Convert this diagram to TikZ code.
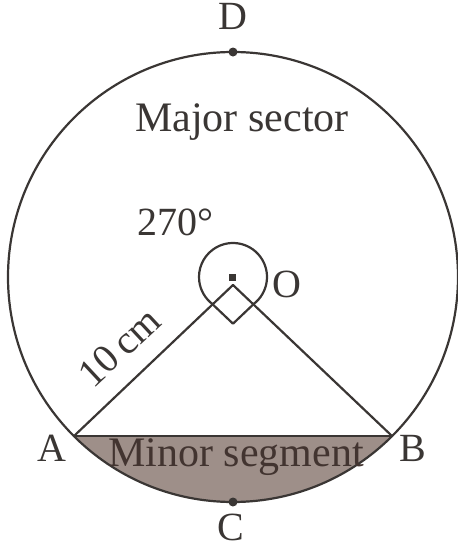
\documentclass[tikz,border=0pt]{standalone}
\usepackage{fontspec}
\setmainfont{Liberation Serif}
\usetikzlibrary{calc}
\definecolor{ink}{RGB}{58,54,52}
\definecolor{segfill}{RGB}{158,143,137}
\definecolor{segtext}{RGB}{66,52,48}
\begin{document}
\begin{tikzpicture}[x=0.5pt,y=0.5pt,
  lbl/.style={font=\fontsize{20}{20}\selectfont, text=ink, inner sep=0pt},
  big/.style={font=\fontsize{21}{21}\selectfont, text=ink, inner sep=0pt},
  edge/.style={draw=ink, line width=1.1pt, line join=round},
  dot/.style={circle, fill=ink, inner sep=0pt, minimum size=4.5pt}]
\useasboundingbox (0,0) rectangle (458,548);
\coordinate (O) at (233,271);
\path (O) ++(225:112.5pt) coordinate (A);
\path (O) ++(315:112.5pt) coordinate (B);
\coordinate (P) at (233,263);
\coordinate (L) at ($(P)!0.128!(A)$);
\coordinate (R) at ($(P)!0.128!(B)$);
\coordinate (S) at ($(L)+(R)-(P)$);
% minor segment
\fill[segfill] (A) arc[start angle=225,end angle=315,radius=112.5pt] -- cycle;
% circle
\draw[edge] (O) circle[radius=112.5pt];
\draw[edge] (A) -- (B);
% radii and right angle
\draw[edge] (A) -- (L) -- (P) -- (R) -- (B);
\draw[edge] (L) -- (S) -- (R);
% 270 degree arc
\draw[edge] ([shift={(-53:17pt)}]O) arc[start angle=-53,end angle=233,radius=17pt];
% points
\node[fill=ink, inner sep=0pt, minimum size=3.5pt] (Odot) at (O) {};
\node[dot] (Ddot) at (233,496) {};
\node[dot] (Cdot) at (233,46) {};
% labels
\node[lbl, anchor=base] (Dl) at (233,518) {D};
\node[big, anchor=base] (maj) at (242,416) {Major sector};
\node[lbl, anchor=base] (ang) at (175,313) {270°};
\node[lbl, anchor=base] (Ol) at (287,250) {O};
\node[lbl, rotate=43] (len) at (119,201) {10\,cm};
\node[lbl, anchor=base] (Al) at (52,86) {A};
\node[lbl, anchor=base] (Bl) at (413,86) {B};
\node[big, anchor=base, text=segtext] (minr) at (236,82) {Minor segment};
\node[lbl, anchor=base] (Cl) at (231,8) {C};
\end{tikzpicture}
\end{document}
